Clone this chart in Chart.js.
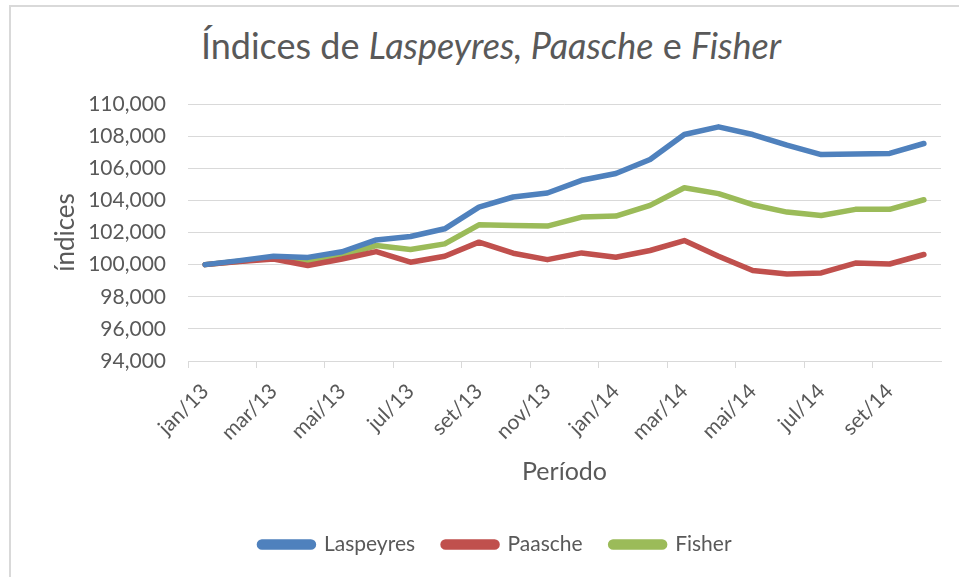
<!DOCTYPE html>
<html>
<head>
<meta charset="utf-8">
<script src="https://cdn.jsdelivr.net/npm/chart.js@4"></script>
<style>
  html, body { margin: 0; padding: 0; background: #fff; }
  #wrap { position: relative; width: 959px; height: 577px; overflow: hidden; }
  #frame {
    position: absolute; left: 9px; top: 5px; width: 1000px; height: 700px;
    border-left: 2px solid #d9d9d9; border-top: 2px solid #d9d9d9;
  }
  #title {
    position: absolute; left: 0; width: 982px; top: 27px; text-align: center;
    font-family: Lato, sans-serif; font-size: 36px; line-height: 1; color: #595959;
  }
  #title em { font-style: italic; }
  canvas { position: absolute; left: 0; top: 0; }
</style>
</head>
<body>
<div id="wrap">
  <div id="frame"></div>
  <div id="title">Índices de <em>Laspeyres, Paasche</em> e <em>Fisher</em></div>
  <canvas id="chart" width="959" height="577"></canvas>
</div>
<script>
  // Período (jan/13 a out/14)
  const periods = [
    "jan/13", "fev/13", "mar/13", "abr/13", "mai/13", "jun/13",
    "jul/13", "ago/13", "set/13", "out/13", "nov/13", "dez/13",
    "jan/14", "fev/14", "mar/14", "abr/14", "mai/14", "jun/14",
    "jul/14", "ago/14", "set/14", "out/14",
  ];

  const laspeyres = [
    100.00, 100.25, 100.52, 100.45, 100.80, 101.54,
    101.75, 102.23, 103.58, 104.21, 104.46, 105.25,
    105.67, 106.54, 108.10, 108.58, 108.10, 107.44,
    106.85, 106.88, 106.92, 107.54,
  ];

  const paasche = [
    100.00, 100.20, 100.35, 99.95, 100.35, 100.81,
    100.15, 100.52, 101.40, 100.71, 100.31, 100.73,
    100.46, 100.88, 101.50, 100.52, 99.63, 99.42,
    99.48, 100.10, 100.04, 100.63,
  ];

  const fisher = [
    100.00, 100.21, 100.42, 100.25, 100.56, 101.19,
    100.94, 101.29, 102.48, 102.44, 102.40, 102.96,
    103.02, 103.69, 104.79, 104.42, 103.73, 103.27,
    103.06, 103.44, 103.44, 104.04,
  ];

  const yMin = 94;
  const yMax = 110;
  const yStep = 2;

  const textColor = "#595959";
  const gridColor = "#d9d9d9";
  const fontFamily = "Lato, sans-serif";

  function makeSeries(label, values, color) {
    return {
      label: label,
      data: values,
      borderColor: color,
      backgroundColor: color,
      borderWidth: 5.5,
      pointRadius: 0,
      tension: 0,
      borderCapStyle: "round",
      borderJoinStyle: "round",
    };
  }

  const ctx = document.getElementById("chart").getContext("2d");
  new Chart(ctx, {
    type: "line",
    data: {
      labels: periods,
      datasets: [
        makeSeries("Laspeyres", laspeyres, "#4f81bd"),
        makeSeries("Paasche", paasche, "#c0504d"),
        makeSeries("Fisher", fisher, "#9bbb59"),
      ],
    },
    options: {
      responsive: false,
      animation: false,
      layout: { padding: { top: 104, left: 50, right: 18, bottom: 12 } },
      plugins: {
        title: { display: false },
        tooltip: { enabled: false },
        legend: {
          position: "bottom",
          labels: {
            boxWidth: 54,
            boxHeight: 5,
            useBorderRadius: true,
            borderRadius: 2.5,
            padding: 28,
            color: textColor,
            font: { family: fontFamily, size: 21 },
          },
        },
      },
      scales: {
        x: {
          offset: true,
          grid: {
            offset: true,
            drawOnChartArea: false,
            tickLength: 7,
            color: (c) => (c.index % 2 === 0 ? gridColor : "rgba(0,0,0,0)"),
          },
          border: { color: gridColor, width: 1 },
          ticks: {
            autoSkip: false,
            minRotation: 45,
            maxRotation: 45,
            padding: 11,
            color: textColor,
            font: { family: fontFamily, size: 21 },
            callback: function (value, index) {
              return index % 2 === 0 ? this.getLabelForValue(value) : "";
            },
          },
          title: {
            display: true,
            text: "Período",
            color: textColor,
            font: { family: fontFamily, size: 25 },
            padding: { top: 4, bottom: 19 },
          },
          afterFit: (scale) => { scale.height = 145; },
        },
        y: {
          min: yMin,
          max: yMax,
          grid: { color: gridColor, drawTicks: false },
          border: { display: false },
          ticks: {
            stepSize: yStep,
            padding: 22,
            color: textColor,
            font: { family: fontFamily, size: 21 },
            callback: (v) => v.toLocaleString("pt-BR", { minimumFractionDigits: 3, maximumFractionDigits: 3 }).replace(".", ","),
          },
          title: {
            display: true,
            text: "índices",
            color: textColor,
            font: { family: fontFamily, size: 26 },
            padding: { top: 0, bottom: 0 },
          },
          afterFit: (scale) => { scale.width = 138; },
        },
      },
    },
  });
</script>
</body>
</html>
